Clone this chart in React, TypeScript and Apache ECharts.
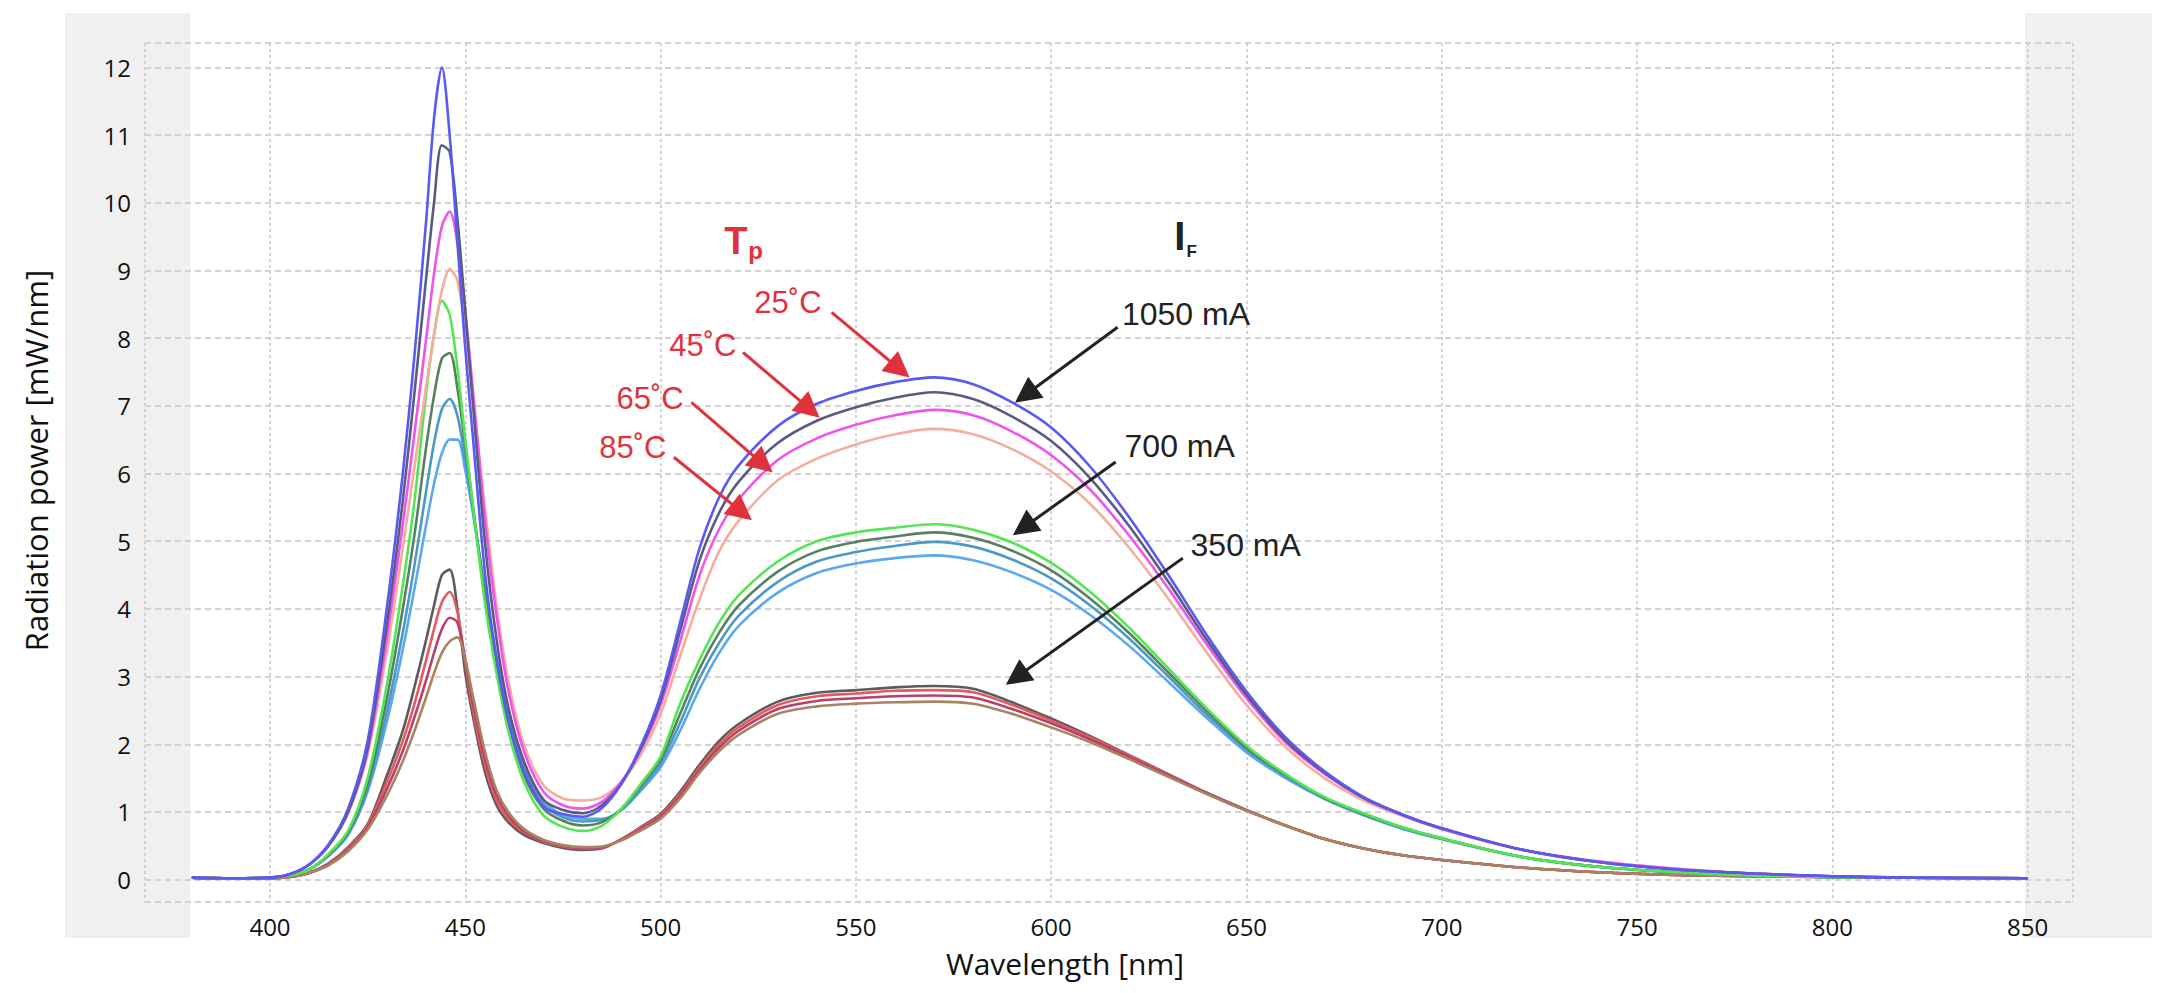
import React, { useRef, useEffect } from 'react'
import * as echarts from 'echarts'

// wavelength samples [nm]
const wavelengths = [
  380, 390, 400, 405, 410, 415, 420, 425, 430,
  434, 437, 440, 442, 444, 446, 448, 450, 452, 455,
  458, 461, 465, 470, 475, 480, 485, 490, 495, 500,
  505, 510, 515, 520, 530, 540, 550, 560, 570, 580,
  590, 600, 610, 620, 630, 640, 650, 660, 670, 680,
  690, 700, 720, 740, 760, 780, 800, 820, 850
]

// 1050 mA
const i1050t25 = [
  0.03, 0.02, 0.03, 0.08, 0.22, 0.52, 1.05, 2.05, 4.05,
  6.0, 7.75, 9.75, 11.25, 12.0, 11.0, 9.4, 7.85, 6.5, 4.55,
  3.25, 2.35, 1.6, 1.08, 0.97, 0.93, 1.06, 1.42, 1.98, 2.72,
  3.8, 4.9, 5.65, 6.12, 6.7, 7.03, 7.22, 7.35, 7.42, 7.32,
  7.05, 6.68, 6.1, 5.35, 4.5, 3.6, 2.78, 2.1, 1.6, 1.22,
  0.96, 0.76, 0.45, 0.26, 0.15, 0.09, 0.05, 0.03, 0.02
]
const i1050t45 = [
  0.03, 0.02, 0.03, 0.08, 0.22, 0.5, 1.0, 1.95, 3.8,
  5.6, 7.2, 8.9, 10.0, 10.85, 10.75, 9.75, 8.4, 7.0, 5.0,
  3.55, 2.55, 1.75, 1.18, 1.03, 0.98, 1.1, 1.42, 1.95, 2.65,
  3.68, 4.72, 5.42, 5.88, 6.45, 6.78, 6.98, 7.12, 7.2, 7.1,
  6.84, 6.48, 5.93, 5.22, 4.4, 3.53, 2.73, 2.06, 1.58, 1.21,
  0.96, 0.76, 0.45, 0.26, 0.15, 0.09, 0.05, 0.03, 0.02
]
const i1050t65 = [
  0.03, 0.02, 0.03, 0.08, 0.22, 0.52, 1.0, 1.9, 3.6,
  5.25, 6.6, 8.0, 8.95, 9.65, 9.87, 9.4, 8.4, 7.2, 5.35,
  3.9, 2.8, 1.9, 1.3, 1.1, 1.05, 1.15, 1.45, 1.92, 2.58,
  3.52, 4.5, 5.18, 5.62, 6.2, 6.52, 6.72, 6.86, 6.94, 6.86,
  6.62, 6.27, 5.76, 5.08, 4.3, 3.46, 2.68, 2.03, 1.56, 1.2,
  0.95, 0.75, 0.45, 0.27, 0.16, 0.09, 0.05, 0.03, 0.02
]
const i1050t85 = [
  0.03, 0.02, 0.03, 0.08, 0.22, 0.5, 0.98, 1.85, 3.4,
  4.9, 6.1, 7.3, 8.05, 8.7, 9.02, 8.85, 8.1, 7.1, 5.5,
  4.05, 2.95, 2.0, 1.4, 1.2, 1.17, 1.22, 1.45, 1.85, 2.45,
  3.3, 4.15, 4.85, 5.3, 5.9, 6.22, 6.43, 6.58, 6.66, 6.58,
  6.36, 6.03, 5.55, 4.9, 4.15, 3.34, 2.58, 1.96, 1.5, 1.17,
  0.94, 0.75, 0.45, 0.27, 0.16, 0.09, 0.05, 0.03, 0.02
]

// 700 mA
const i700t25 = [
  0.03, 0.02, 0.03, 0.06, 0.15, 0.38, 0.72, 1.5, 2.9,
  4.35, 5.6, 7.2, 8.05, 8.55, 8.35, 7.55, 6.5, 5.5, 4.1,
  3.05, 2.2, 1.45, 0.95, 0.78, 0.72, 0.8, 1.05, 1.42, 1.82,
  2.6, 3.25, 3.8, 4.2, 4.7, 5.0, 5.13, 5.2, 5.25, 5.17,
  4.98, 4.68, 4.25, 3.72, 3.12, 2.52, 1.98, 1.56, 1.22, 0.98,
  0.77, 0.61, 0.34, 0.19, 0.11, 0.06, 0.04, 0.03, 0.02
]
const i700t45 = [
  0.03, 0.02, 0.03, 0.06, 0.15, 0.37, 0.7, 1.42, 2.7,
  4.0, 5.1, 6.4, 7.15, 7.7, 7.78, 7.25, 6.4, 5.5, 4.2,
  3.15, 2.35, 1.55, 1.05, 0.87, 0.8, 0.85, 1.05, 1.4, 1.78,
  2.45, 3.12, 3.65, 4.05, 4.55, 4.85, 4.99, 5.07, 5.13, 5.05,
  4.86, 4.57, 4.15, 3.64, 3.06, 2.48, 1.95, 1.55, 1.21, 0.97,
  0.77, 0.61, 0.34, 0.19, 0.11, 0.06, 0.04, 0.03, 0.02
]
const i700t65 = [
  0.03, 0.02, 0.03, 0.06, 0.15, 0.36, 0.68, 1.35, 2.5,
  3.65, 4.65, 5.75, 6.45, 6.95, 7.1, 6.85, 6.2, 5.45, 4.25,
  3.25, 2.45, 1.65, 1.12, 0.92, 0.86, 0.88, 1.03, 1.35, 1.72,
  2.32, 2.98, 3.5, 3.9, 4.4, 4.7, 4.84, 4.93, 4.99, 4.92,
  4.73, 4.45, 4.05, 3.56, 3.0, 2.43, 1.92, 1.53, 1.2, 0.96,
  0.76, 0.6, 0.34, 0.19, 0.11, 0.06, 0.04, 0.03, 0.02
]
const i700t85 = [
  0.03, 0.02, 0.03, 0.06, 0.15, 0.35, 0.66, 1.3, 2.35,
  3.4, 4.3, 5.25, 5.85, 6.3, 6.5, 6.5, 6.05, 5.4, 4.3,
  3.3, 2.5, 1.72, 1.18, 0.95, 0.9, 0.9, 1.03, 1.32, 1.66,
  2.2, 2.82, 3.35, 3.75, 4.24, 4.53, 4.67, 4.75, 4.79, 4.72,
  4.54, 4.28, 3.91, 3.45, 2.92, 2.38, 1.88, 1.5, 1.19, 0.95,
  0.75, 0.6, 0.34, 0.19, 0.11, 0.06, 0.04, 0.03, 0.02
]

// 350 mA
const i350t25 = [
  0.03, 0.02, 0.02, 0.04, 0.1, 0.24, 0.48, 0.82, 1.55,
  2.2, 2.85, 3.55, 4.05, 4.5, 4.58, 4.0, 3.05, 2.4, 1.6,
  1.1, 0.85, 0.66, 0.54, 0.47, 0.44, 0.46, 0.6, 0.78, 0.97,
  1.3, 1.7, 2.05, 2.3, 2.63, 2.76, 2.8, 2.84, 2.86, 2.82,
  2.62, 2.38, 2.12, 1.84, 1.56, 1.28, 1.03, 0.8, 0.6, 0.46,
  0.36, 0.29, 0.18, 0.11, 0.07, 0.05, 0.04, 0.03, 0.02
]
const i350t45 = [
  0.03, 0.02, 0.02, 0.04, 0.1, 0.23, 0.46, 0.8, 1.45,
  2.05, 2.6, 3.25, 3.7, 4.1, 4.25, 3.95, 3.2, 2.5, 1.7,
  1.17, 0.9, 0.7, 0.56, 0.49, 0.46, 0.47, 0.6, 0.77, 0.95,
  1.27, 1.66, 2.0, 2.25, 2.58, 2.71, 2.75, 2.79, 2.8, 2.77,
  2.58, 2.35, 2.1, 1.83, 1.55, 1.27, 1.02, 0.8, 0.6, 0.46,
  0.36, 0.29, 0.18, 0.11, 0.07, 0.05, 0.04, 0.03, 0.02
]
const i350t65 = [
  0.03, 0.02, 0.02, 0.04, 0.1, 0.22, 0.44, 0.77, 1.35,
  1.9, 2.4, 2.95, 3.35, 3.7, 3.87, 3.8, 3.25, 2.6, 1.8,
  1.25, 0.95, 0.72, 0.57, 0.5, 0.47, 0.48, 0.59, 0.75, 0.93,
  1.24, 1.62, 1.95, 2.2, 2.52, 2.64, 2.68, 2.71, 2.72, 2.69,
  2.52, 2.31, 2.07, 1.81, 1.54, 1.27, 1.02, 0.8, 0.6, 0.46,
  0.36, 0.29, 0.18, 0.11, 0.07, 0.05, 0.04, 0.03, 0.02
]
const i350t85 = [
  0.03, 0.02, 0.02, 0.04, 0.1, 0.21, 0.42, 0.74, 1.25,
  1.75, 2.2, 2.7, 3.05, 3.35, 3.52, 3.58, 3.25, 2.7, 1.9,
  1.32, 1.0, 0.75, 0.59, 0.51, 0.48, 0.49, 0.58, 0.73, 0.9,
  1.2, 1.58, 1.9, 2.14, 2.45, 2.56, 2.6, 2.62, 2.63, 2.6,
  2.45, 2.25, 2.03, 1.78, 1.52, 1.26, 1.02, 0.8, 0.6, 0.46,
  0.36, 0.29, 0.18, 0.11, 0.07, 0.05, 0.04, 0.03, 0.02
]

const curves = [
  { name: '350 mA 25˚C', color: '#5c5c5c', values: i350t25 },
  { name: '350 mA 45˚C', color: '#e65a5e', values: i350t45 },
  { name: '350 mA 65˚C', color: '#b8406a', values: i350t65 },
  { name: '350 mA 85˚C', color: '#a88462', values: i350t85 },
  { name: '700 mA 85˚C', color: '#5aa8f0', values: i700t85 },
  { name: '700 mA 65˚C', color: '#4c98c6', values: i700t65 },
  { name: '700 mA 45˚C', color: '#56805e', values: i700t45 },
  { name: '700 mA 25˚C', color: '#52e652', values: i700t25 },
  { name: '1050 mA 85˚C', color: '#f5ae9e', values: i1050t85 },
  { name: '1050 mA 65˚C', color: '#f052ee', values: i1050t65 },
  { name: '1050 mA 45˚C', color: '#5a5a82', values: i1050t45 },
  { name: '1050 mA 25˚C', color: '#5a5af2', values: i1050t25 }
]

const RED = '#e0323c'
const DARK = '#222222'

// annotations in data coordinates [nm, mW/nm]
const textLabels = [
  { text: 'T', x: 519.3, y: 9.44, size: 38, bold: true, color: RED },
  { text: 'p', x: 524.3, y: 9.29, size: 24, bold: true, color: RED },
  { text: 'I', x: 632.9, y: 9.51, size: 40, bold: true, color: DARK },
  { text: 'F', x: 636.0, y: 9.28, size: 17, bold: true, color: DARK },
  { text: '25˚C', x: 532.6, y: 8.53, size: 31, bold: false, color: RED },
  { text: '45˚C', x: 510.8, y: 7.89, size: 31, bold: false, color: RED },
  { text: '65˚C', x: 497.3, y: 7.11, size: 31, bold: false, color: RED },
  { text: '85˚C', x: 492.9, y: 6.39, size: 31, bold: false, color: RED },
  { text: '1050 mA', x: 634.5, y: 8.36, size: 32, bold: false, color: DARK },
  { text: '700 mA', x: 632.9, y: 6.4, size: 32, bold: false, color: DARK },
  { text: '350 mA', x: 649.8, y: 4.94, size: 32, bold: false, color: DARK }
]

// [x1, y1, x2, y2]
const redArrows = [
  [543.8, 8.38, 561.2, 7.54],
  [521.1, 7.79, 538.2, 6.95],
  [507.9, 7.05, 526.2, 6.14],
  [503.4, 6.24, 520.8, 5.43]
]
const darkArrows = [
  [617.0, 8.16, 593.4, 7.16],
  [616.5, 6.17, 592.9, 5.2],
  [633.7, 4.75, 591.1, 2.99]
]

const tickFont = 'Open Sans, sans-serif'
const noteFont = 'Liberation Sans, Arial, sans-serif'

const arrowSeries = (name: string, arrows: number[][], color: string) => ({
  name,
  type: 'line',
  data: [],
  silent: true,
  itemStyle: { color },
  markLine: {
    silent: true,
    symbol: ['none', 'triangle'],
    symbolSize: 26,
    label: { show: false },
    itemStyle: { color },
    lineStyle: { color, width: 3, type: 'solid' },
    emphasis: { disabled: true },
    data: arrows.map(a => [{ coord: [a[0], a[1]] }, { coord: [a[2], a[3]] }])
  }
})

const App: React.FC = () => {
  const chartRef = useRef<HTMLDivElement>(null)

  useEffect(() => {
    if (!chartRef.current) return
    const chart = echarts.init(chartRef.current, null, { renderer: 'svg' })

    const option = {
      animation: false,
      backgroundColor: '#ffffff',
      grid: { left: 145, right: 98, top: 43, bottom: 91, containLabel: false },
      graphic: [
        { type: 'rect', z: -10, shape: { x: 65, y: 13, width: 125, height: 925 }, style: { fill: '#f0f0f0' } },
        { type: 'rect', z: -10, shape: { x: 2025, y: 13, width: 127, height: 925 }, style: { fill: '#f0f0f0' } }
      ],
      xAxis: {
        type: 'value',
        min: 368,
        max: 861.6,
        splitNumber: 10,
        minInterval: 50,
        maxInterval: 50,
        name: 'Wavelength [nm]',
        nameLocation: 'middle',
        nameGap: 46,
        nameTextStyle: { fontSize: 30, color: '#111', fontFamily: tickFont, padding: [0, 88, 0, 0] },
        axisLine: { show: false },
        axisTick: { show: false },
        axisLabel: {
          showMinLabel: false,
          showMaxLabel: false,
          fontSize: 24,
          color: '#111',
          fontFamily: tickFont,
          margin: 12
        },
        splitLine: { show: true, lineStyle: { color: '#d2d2d2', width: 2, type: [3, 3] } }
      },
      yAxis: {
        type: 'value',
        min: -0.33,
        max: 12.36,
        splitNumber: 12,
        minInterval: 1,
        maxInterval: 1,
        name: 'Radiation power [mW/nm]',
        nameLocation: 'middle',
        nameRotate: 90,
        nameGap: 94,
        nameTextStyle: { fontSize: 31, color: '#111', fontFamily: tickFont, padding: [0, 0, 0, 24] },
        axisLine: { show: false },
        axisTick: { show: false },
        axisLabel: {
          showMinLabel: false,
          showMaxLabel: false,
          fontSize: 24,
          color: '#111',
          fontFamily: tickFont,
          margin: 14
        },
        splitLine: { show: true, lineStyle: { color: '#d2d2d2', width: 2, type: [6, 4] } }
      },
      series: [
        ...curves.map(c => ({
          name: c.name,
          type: 'line',
          data: wavelengths.map((w, i) => [w, c.values[i]]),
          smooth: 0.3,
          symbol: 'none',
          silent: true,
          lineStyle: { color: c.color, width: 2.6 },
          itemStyle: { color: c.color }
        })),
        arrowSeries('red arrows', redArrows, RED),
        arrowSeries('dark arrows', darkArrows, DARK),
        {
          name: 'notes',
          type: 'line',
          data: [],
          silent: true,
          markPoint: {
            silent: true,
            symbol: 'rect',
            symbolSize: 1,
            itemStyle: { color: 'rgba(0,0,0,0)' },
            data: textLabels.map(l => ({
              coord: [l.x, l.y],
              value: l.text,
              label: {
                show: true,
                position: 'inside',
                formatter: () => l.text,
                color: l.color,
                fontSize: l.size,
                fontWeight: l.bold ? 'bold' : 'normal',
                fontFamily: noteFont
              }
            }))
          }
        }
      ]
    }

    chart.setOption(option)
    return () => {
      chart.dispose()
    }
  }, [])

  return (
    <div
      ref={chartRef}
      style={{ position: 'fixed', left: 0, top: 0, width: 2171, height: 993, background: '#fff' }}
    />
  )
}

export default App
